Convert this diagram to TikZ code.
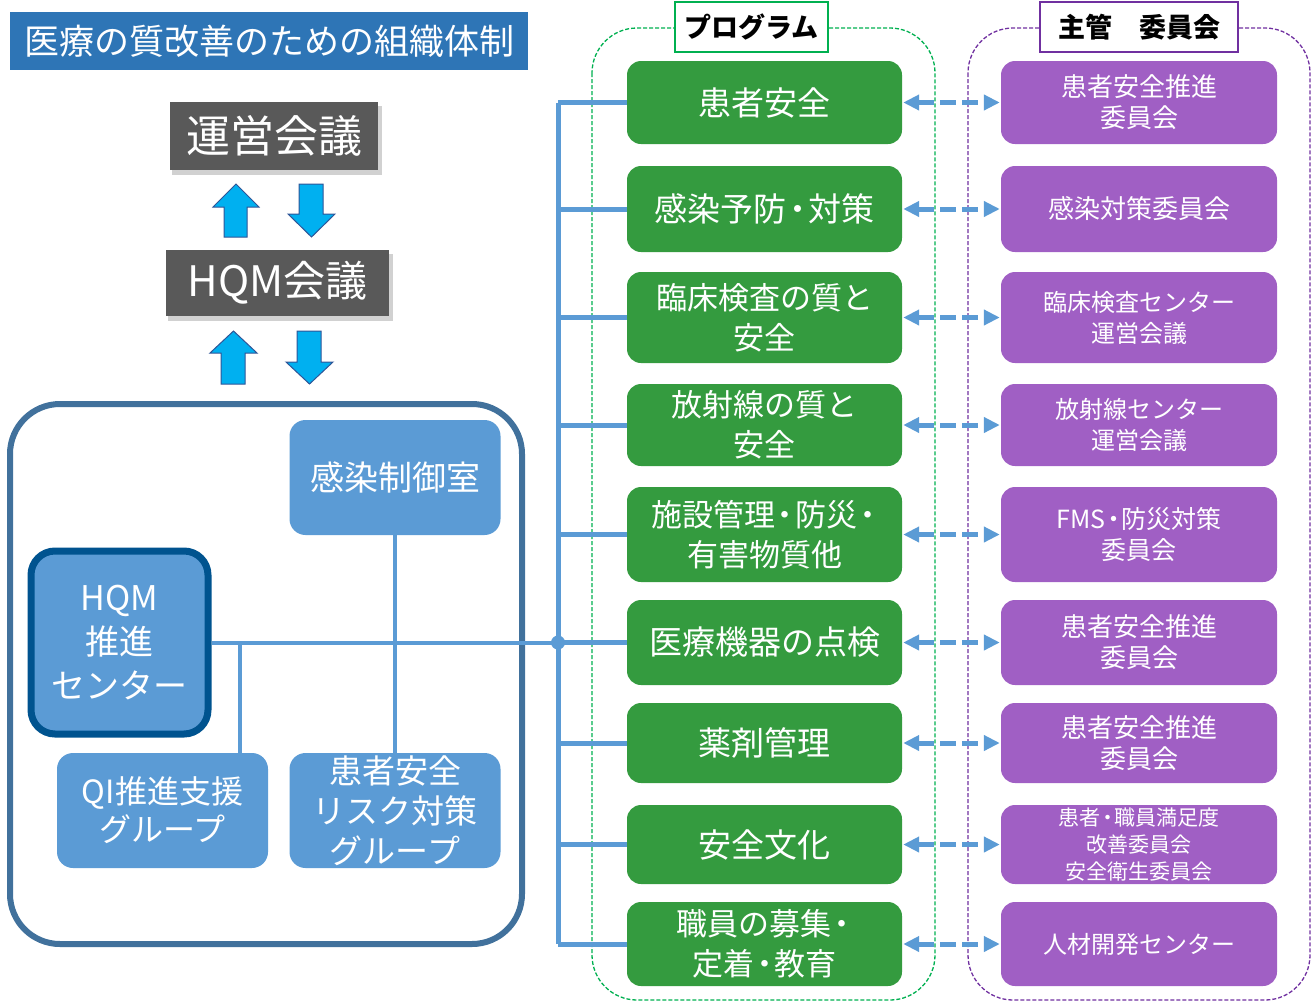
\documentclass[tikz,border=0pt]{standalone}
\usepackage{fontspec}
\setmainfont{Noto Sans CJK JP}
\usetikzlibrary{arrows.meta}
\definecolor{titleblue}{HTML}{2E75B6}
\definecolor{darkgray}{HTML}{595959}
\definecolor{arrcyan}{HTML}{00B0F0}
\definecolor{arredge}{HTML}{2F5597}
\definecolor{frameblue}{HTML}{41719C}
\definecolor{lightblue}{HTML}{5B9BD5}
\definecolor{hqmedge}{HTML}{00538F}
\definecolor{proggreen}{HTML}{349B3F}
\definecolor{commpurple}{HTML}{A05FC4}
\definecolor{dashgreen}{HTML}{00B050}
\definecolor{dashpurple}{HTML}{7030A0}
\newcommand{\nd}{\kern-0.17em・\kern-0.17em}
\tikzset{
  gbox/.style={fill=proggreen, rounded corners=14pt, minimum width=275pt, text=white, align=center, inner sep=0pt, font=\fontsize{33}{40}\selectfont},
  gbox2/.style={gbox, font=\fontsize{31}{40}\selectfont},
  pbox/.style={fill=commpurple, rounded corners=14pt, minimum width=276pt, text=white, align=center, inner sep=0pt, font=\fontsize{26}{31}\selectfont},
  lbox/.style={fill=lightblue, rounded corners=16pt, text=white, align=center, inner sep=0pt, font=\fontsize{32}{40}\selectfont},
  graybox/.style={fill=darkgray, text=white, inner sep=0pt, font=\fontsize{44}{50}\selectfont},
  link/.style={draw=lightblue, line width=5pt},
  ilink/.style={draw=lightblue, line width=4pt},
  darr/.style={draw=lightblue, line width=5pt, dash pattern=on 16pt off 6pt, {Triangle[length=16pt,width=15pt]}-{Triangle[length=16pt,width=15pt]}},
  blockarr/.style={fill=arrcyan, draw=arredge, line width=1pt},
  tagbox/.style={fill=white, line width=2pt, inner sep=0pt, font=\fontsize{27}{30}\selectfont\bfseries, text=black},
}
\begin{document}
\begin{tikzpicture}[x=1pt,y=-1pt]
\useasboundingbox (0,0) rectangle (1311,1007);

% title
\node[fill=titleblue, text=white, minimum width=518pt, minimum height=58pt, inner sep=0pt, font=\fontsize{35}{38}\selectfont] (title) at (269,41) {医療の質改善のための組織体制};

% gray boxes with shadow
\fill[black, opacity=0.18] (172,106) rectangle (382,175);
\fill[black, opacity=0.18] (168,254) rectangle (393,321);
\node[graybox, minimum width=208pt, minimum height=68pt] (unei) at (274,136) {運営会議};
\node[graybox, minimum width=223pt, minimum height=66pt, font=\fontsize{42}{48}\selectfont] (hqmk) at (277.5,283) {HQM会議};

% block arrows
\filldraw[blockarr] (213,207) -- (236,184) -- (259,207) -- (247,207) -- (247,237) -- (224,237) -- (224,207) -- cycle;
\filldraw[blockarr] (288,214) -- (311.5,237) -- (335,214) -- (323,214) -- (323,184) -- (299,184) -- (299,214) -- cycle;
\filldraw[blockarr] (210,353) -- (233.5,331) -- (257,353) -- (245,353) -- (245,384) -- (221,384) -- (221,353) -- cycle;
\filldraw[blockarr] (286,362) -- (309.5,384) -- (333,362) -- (321,362) -- (321,331) -- (297,331) -- (297,362) -- cycle;

% big frame
\draw[frameblue, line width=6pt, rounded corners=50pt] (10,404) rectangle (522,944);

% left boxes
\node[lbox, minimum width=211pt, minimum height=115pt, font=\fontsize{34}{40}\selectfont] (kansen) at (395,477.5) {感染制御室};
\node[lbox, minimum width=211pt, minimum height=115pt, font=\fontsize{32}{38}\selectfont] (qi) at (162.5,810.5) {QI推進支援\\グループ};
\node[lbox, minimum width=211pt, minimum height=115pt, font=\fontsize{33}{40}\selectfont] (risk) at (395,810.5) {患者安全\\リスク対策\\グループ};
\node[lbox, draw=hqmedge, line width=7pt, rounded corners=24pt, minimum width=177pt, minimum height=183pt, font=\fontsize{34}{44}\selectfont] (hqm) at (119.5,642.5) {HQM\\推進\\センター};

% green boxes
\node[gbox, minimum height=83pt] (g1) at (764.5,102.5) {患者安全};
\node[gbox, minimum height=86pt] (g2) at (764.5,209) {感染予防\nd 対策};
\node[gbox2, minimum height=91pt] (g3) at (764.5,317.5) {臨床検査の質と\\安全};
\node[gbox2, minimum height=82pt] (g4) at (764.5,425) {放射線の質と\\安全};
\node[gbox2, minimum height=95pt] (g5) at (764.5,534.5) {施設管理\nd 防災\nd\\有害物質他};
\node[gbox, minimum height=85pt] (g6) at (764.5,642.5) {医療機器の点検};
\node[gbox, minimum height=80pt] (g7) at (764.5,743) {薬剤管理};
\node[gbox, minimum height=79pt] (g8) at (764.5,844.5) {安全文化};
\node[gbox2, minimum height=84pt] (g9) at (764.5,944) {職員の募集\nd\\定着\nd 教育};

% purple boxes
\node[pbox, minimum height=83pt] (p1) at (1139,102.5) {患者安全推進\\委員会};
\node[pbox, minimum height=86pt] (p2) at (1139,209) {感染対策委員会};
\node[pbox, minimum height=91pt, font=\fontsize{24}{31}\selectfont] (p3) at (1139,317.5) {臨床検査センター\\運営会議};
\node[pbox, minimum height=82pt, font=\fontsize{24}{31}\selectfont] (p4) at (1139,425) {放射線センター\\運営会議};
\node[pbox, minimum height=95pt, font=\fontsize{25}{31}\selectfont] (p5) at (1139,534.5) {FMS\nd 防災対策\\委員会};
\node[pbox, minimum height=85pt] (p6) at (1139,642.5) {患者安全推進\\委員会};
\node[pbox, minimum height=80pt] (p7) at (1139,743) {患者安全推進\\委員会};
\node[pbox, minimum height=79pt, font=\fontsize{21}{27}\selectfont] (p8) at (1139,844.5) {患者\nd 職員満足度\\改善委員会\\安全衛生委員会};
\node[pbox, minimum height=84pt, font=\fontsize{24}{31}\selectfont] (p9) at (1139,944) {人材開発センター};

% dashed containers
\draw[dashgreen, line width=1.3pt, dash pattern=on 4pt off 2pt, rounded corners=45pt] (592,28) rectangle (935,1000);
\draw[dashpurple, line width=1.3pt, dash pattern=on 4pt off 2pt, rounded corners=45pt] (968,28) rectangle (1310,1000);
\node[tagbox, draw=dashgreen, minimum width=153pt, minimum height=50pt] (tagp) at (751.5,27) {プログラム};
\node[tagbox, draw=dashpurple, minimum width=198pt, minimum height=50pt] (tagc) at (1139,27) {主管\hspace{1em}委員会};

% trunk and branches
\coordinate (trunk) at (558,0);
\draw[link] (g1.west -| trunk) -- (g9.west -| trunk);
\foreach \i in {1,...,9} {\draw[link] (g\i.west -| trunk) -- (g\i.west);}
\coordinate (junc) at (558,642.5);
\draw[ilink] (hqm.east) -- (junc);
\fill[lightblue] (junc) circle (7pt);
\draw[ilink] (kansen.south) -- (risk.north);
\coordinate (qj) at (240,642.5);
\draw[ilink] (qj) -- (qj |- qi.north);

% dashed double arrows
\foreach \i in {1,...,9} {\draw[darr, shorten <=1pt, shorten >=1pt] (g\i.east) -- (p\i.west);}
\end{tikzpicture}
\end{document}
